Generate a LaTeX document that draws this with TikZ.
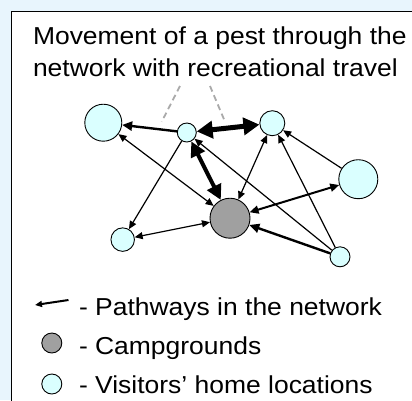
\documentclass[tikz,border=0pt]{standalone}
\usepackage{fontspec}
\setmainfont{Liberation Sans}
\usetikzlibrary{arrows.meta}
\definecolor{bgblue}{RGB}{232,245,253}
\definecolor{lcyan}{RGB}{218,255,255}
\definecolor{cgray}{RGB}{160,160,160}
\definecolor{dgray}{RGB}{170,170,170}
\newcommand{\txt}[1]{\fontsize{24.5}{29}\selectfont\scalebox{1.08}[1]{#1}}
\tikzset{
  visitor/.style={circle,draw=black,line width=0.9pt,fill=lcyan,inner sep=0pt},
  camp/.style={circle,draw=black,line width=0.9pt,fill=cgray,inner sep=0pt},
  thinpath/.style={line width=1.2pt,-{Triangle[length=8pt,width=7pt]}},
  thinboth/.style={line width=1.2pt,{Triangle[length=8pt,width=7pt]}-{Triangle[length=8pt,width=7pt]}},
  medpath/.style={line width=2.4pt,-{Triangle[length=10pt,width=9pt]}},
  medboth/.style={line width=2pt,{Triangle[length=9pt,width=8pt]}-{Triangle[length=9pt,width=8pt]}},
  thickboth/.style={line width=4pt,{Triangle[length=15pt,width=15pt]}-{Triangle[length=15pt,width=15pt]}},
  heavyboth/.style={line width=5pt,{Triangle[length=16pt,width=17pt]}-{Triangle[length=16pt,width=17pt]}},
  callout/.style={dgray,line width=1.8pt,dash pattern=on 6pt off 4pt},
  label/.style={anchor=base west,inner sep=0pt,outer sep=0pt,text=black}
}
\begin{document}
\begin{tikzpicture}[x=1pt,y=-1pt]
\useasboundingbox (0,0) rectangle (412,400);
\clip (0,0) rectangle (412,400);
\fill[bgblue] (0,0) rectangle (412,400);
\draw[line width=1.8pt,fill=white] (11.5,11.5) rectangle (430,420);

\node[label] (t1) at (33,44) {\txt{Movement of a pest through the}};
\node[label] (t2) at (33,76) {\txt{network with recreational travel}};

\coordinate (c1a) at (180,86);
\coordinate (c1b) at (161.7,121.7);
\coordinate (c2a) at (210,86);
\coordinate (c2b) at (225,121.7);
\draw[callout] (c1a) -- (c1b);
\draw[callout] (c2a) -- (c2b);

\node[visitor,minimum size=37pt] (L) at (103.3,122.7) {};
\node[visitor,minimum size=19pt] (T) at (186.8,132.5) {};
\node[visitor,minimum size=25pt] (R) at (272.3,123.2) {};
\node[visitor,minimum size=39pt] (RR) at (358.3,179.2) {};
\node[camp,minimum size=40pt] (G) at (230,218.2) {};
\node[visitor,minimum size=23.5pt] (BL) at (122.7,239.6) {};
\node[visitor,minimum size=20pt] (BR) at (340,256.8) {};

\draw[medpath] (T) -- (L);
\draw[heavyboth] (T) -- (R);
\draw[thickboth] (T) -- (G);
\draw[thinboth] (L) -- (G);
\draw[thinpath] (T) -- (BL);
\draw[thinboth] (BL) -- (G);
\draw[thinboth] (R) -- (G);
\draw[thinpath] (BR) -- (T);
\draw[thinpath] (BR) -- (R);
\draw[medpath] (BR) -- (G);
\draw[thinpath] (RR) -- (R);
\draw[medboth] (RR) -- (G);

% legend
\coordinate (la) at (68.5,300);
\coordinate (lb) at (35,305);
\draw[line width=2pt,-{Triangle[length=7pt,width=6pt]}] (la) -- (lb);
\node[camp,minimum size=20pt] (lg) at (51.8,343) {};
\node[visitor,minimum size=20pt] (lc) at (51.8,384) {};
\node[label] (l1) at (79,315) {\txt{- Pathways in the network}};
\node[label] (l2) at (79,354) {\txt{- Campgrounds}};
\node[label] (l3) at (79,393) {\txt{- Visitors’ home locations}};
\end{tikzpicture}
\end{document}
